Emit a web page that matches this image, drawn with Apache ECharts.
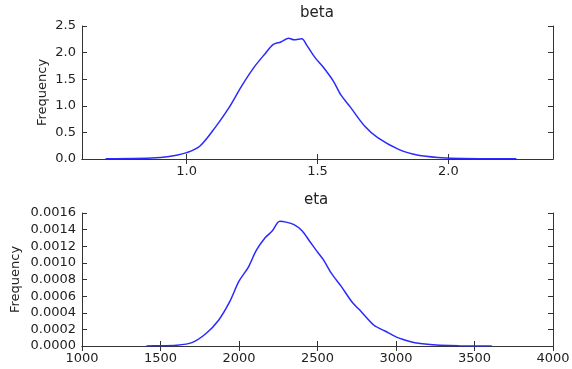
<!DOCTYPE html>
<html>
<head>
<meta charset="utf-8">
<script src="https://cdn.jsdelivr.net/npm/echarts@6/dist/echarts.min.js"></script>
<style>
  html, body { margin: 0; padding: 0; background: #fff; }
  #main { width: 572px; height: 369px; }
</style>
</head>
<body>
<div id="main"></div>
<script>
// beta density curve
var betaX = [0.69, 0.80, 0.90, 0.95, 1.00, 1.05, 1.11, 1.16, 1.21, 1.26, 1.30, 1.33, 1.36, 1.39, 1.41, 1.44, 1.46, 1.49, 1.52, 1.56, 1.59, 1.625, 1.68, 1.73, 1.81, 1.885, 1.96, 2.06, 2.26];
var betaY = [0.005, 0.008, 0.03, 0.06, 0.12, 0.24, 0.6, 0.95, 1.37, 1.74, 1.98, 2.15, 2.2, 2.27, 2.24, 2.26, 2.13, 1.91, 1.74, 1.47, 1.2, 0.98, 0.62, 0.4, 0.18, 0.07, 0.03, 0.01, 0.005];
// eta density curve
var etaX = [1410, 1500, 1600, 1700, 1790, 1870, 1940, 2000, 2060, 2110, 2165, 2210, 2260, 2300, 2350, 2400, 2450, 2500, 2540, 2590, 2650, 2720, 2780, 2860, 2930, 3000, 3060, 3120, 3200, 3280, 3400, 3610];
var etaY = [0, 0.000003, 0.000008, 0.00004, 0.00015, 0.00031, 0.00053, 0.00078, 0.00095, 0.00115, 0.0013, 0.00138, 0.0015, 0.00149, 0.00146, 0.00139, 0.00126, 0.00113, 0.00103, 0.00087, 0.00072, 0.00053, 0.00041, 0.00025, 0.00018, 0.00011, 0.00007, 0.00004, 0.00002, 0.00001, 0.000003, 0];
var betaTicks = [1.0, 1.5, 2.0];

function zip(a, b) {
    var out = [];
    for (var i = 0; i < a.length; i++) out.push([a[i], b[i]]);
    return out;
}

var txt = '#222';
var frame = '#333';
var font = 'DejaVu Sans';

function xAx(grid, pos, min, max, interval, custom, showLabel) {
    var ax = {
        type: 'value', gridIndex: grid, position: pos, min: min, max: max,
        axisLine: { show: true, lineStyle: { color: frame, width: 1 } },
        axisTick: { show: true, inside: true, length: 5, lineStyle: { color: frame } },
        axisLabel: { show: showLabel, color: txt, fontSize: 13, fontFamily: font, margin: 6,
            formatter: function (v) { return String(v); } },
        splitLine: { show: false }
    };
    if (custom) {
        ax.axisTick.customValues = custom;
        ax.axisLabel.customValues = custom;
        ax.axisLabel.formatter = function (v) { return v.toFixed(1); };
    } else {
        ax.interval = interval;
    }
    return ax;
}

function yAx(grid, pos, max, interval, digits, showLabel, name, gap) {
    return {
        type: 'value', gridIndex: grid, position: pos, min: 0, max: max, interval: interval,
        name: name || '', nameLocation: 'middle', nameGap: gap || 0, nameRotate: 90,
        nameMoveOverlap: false,
        nameTextStyle: { color: txt, fontSize: 13, fontFamily: font },
        axisLine: { show: true, lineStyle: { color: frame, width: 1 } },
        axisTick: { show: true, inside: true, length: 5, lineStyle: { color: frame } },
        axisLabel: { show: showLabel, color: txt, fontSize: 13, fontFamily: font, margin: 6,
            formatter: function (v) { return v.toFixed(digits); } },
        splitLine: { show: false }
    };
}

var myChart = echarts.init(document.getElementById('main'));
var option = {
    backgroundColor: '#fff',
    animation: false,
    title: [
        { text: 'beta', left: 300, top: 6, padding: 0,
          textStyle: { fontSize: 15, fontWeight: 'normal', color: txt, fontFamily: font } },
        { text: 'eta', left: 304, top: 193, padding: 0,
          textStyle: { fontSize: 15, fontWeight: 'normal', color: txt, fontFamily: font } }
    ],
    grid: [
        { left: 82, right: 19, top: 26, height: 133, outerBoundsMode: 'none' },
        { left: 82, right: 19, top: 213, height: 133, outerBoundsMode: 'none' }
    ],
    xAxis: [
        xAx(0, 'bottom', 0.6, 2.4, null, betaTicks, true),
        xAx(0, 'top', 0.6, 2.4, null, betaTicks, false),
        xAx(1, 'bottom', 1000, 4000, 500, null, true),
        xAx(1, 'top', 1000, 4000, 500, null, false)
    ],
    yAxis: [
        yAx(0, 'left', 2.5, 0.5, 1, true, 'Frequency', 33),
        yAx(0, 'right', 2.5, 0.5, 1, false),
        yAx(1, 'left', 0.0016, 0.0002, 4, true, 'Frequency', 60),
        yAx(1, 'right', 0.0016, 0.0002, 4, false)
    ],
    series: [
        { name: 'beta', type: 'line', xAxisIndex: 0, yAxisIndex: 0, data: zip(betaX, betaY),
          showSymbol: false, smooth: 0.3, lineStyle: { color: '#2a2aff', width: 1.5 } },
        { name: 'eta', type: 'line', xAxisIndex: 2, yAxisIndex: 2, data: zip(etaX, etaY),
          showSymbol: false, smooth: 0.3, lineStyle: { color: '#2a2aff', width: 1.5 } }
    ]
};
myChart.setOption(option);
</script>
</body>
</html>
